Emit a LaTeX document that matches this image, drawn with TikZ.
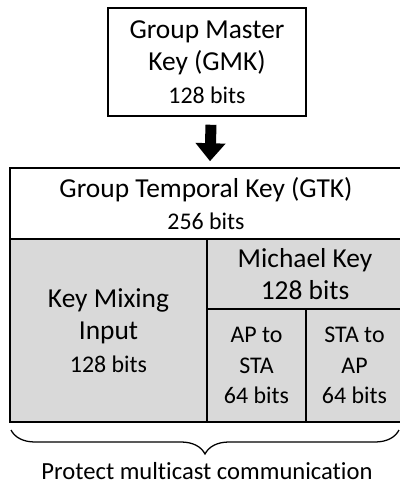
\documentclass[tikz,border=0pt]{standalone}
\usepackage{fontspec}
\setmainfont{Carlito}[Ligatures=NoCommon]
\usetikzlibrary{arrows.meta,decorations.pathreplacing}
\definecolor{cellgray}{HTML}{D9D9D9}
\tikzset{
	keycell/.style={draw=black, line width=1.1pt, inner sep=0pt, align=center,
		font=\fontsize{19.5}{23}\selectfont},
	graycell/.style={keycell, fill=cellgray},
	smallcell/.style={graycell, font=\fontsize{17}{21.5}\selectfont},
	bigarrow/.style={line width=0.275cm, -{Triangle[width=0.725cm,length=0.45cm]}},
	keybrace/.style={line width=0.9pt, decorate, decoration={brace, mirror, amplitude=0.6cm}}
}
\newcommand{\bitsize}[1]{{\fontsize{17}{21.5}\selectfont #1}}
\begin{document}
\begin{tikzpicture}
		\useasboundingbox (0,0) rectangle (10,-12.125);
		
		% master key
		\node[keycell, minimum width=4.95cm, minimum height=2.7cm] (gmk) at (5.175,-1.55)
			{Group Master\\Key (GMK)\\\bitsize{128 bits}};
		
		% temporal key
		\node[keycell, minimum width=9.8cm, minimum height=1.775cm] (gtk) at (5.15,-5.0875)
			{Group Temporal Key (GTK)\\\bitsize{256 bits}};
		\node[graycell, minimum width=4.925cm, minimum height=4.575cm] (kmix) at (2.7125,-8.2625)
			{Key Mixing\\Input\\\bitsize{128 bits}};
		\node[graycell, minimum width=4.9cm, minimum height=1.75cm] (mich) at (7.625,-6.85)
			{Michael Key\\128 bits};
		\node[smallcell, minimum width=2.475cm, minimum height=2.825cm] (apsta) at (6.4125,-9.1375)
			{AP to\\STA\\64 bits};
		\node[smallcell, minimum width=2.425cm, minimum height=2.825cm] (staap) at (8.8625,-9.1375)
			{STA to\\AP\\64 bits};
		
		\draw[bigarrow] ([xshift=0.1cm, yshift=-0.2cm]gmk.south) -- ([xshift=0.1cm, yshift=0.15cm]gtk.north);
		
		% brace
		\coordinate (bl) at (0.275,-10.75);
		\coordinate (br) at (9.975,-10.75);
		\draw[keybrace] (bl) -- (br);
		\node[font=\fontsize{17.5}{21}\selectfont] (note) at (5.175,-11.775) {Protect multicast communication};
		
	\end{tikzpicture}
\end{document}
